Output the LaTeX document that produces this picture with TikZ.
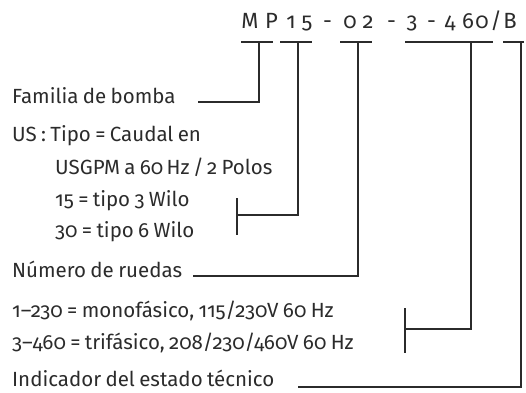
\documentclass[tikz,border=0pt]{standalone}
\usepackage{fontspec}
\setmainfont{Fira Sans}[Numbers=OldStyle,WordSpace=0.8]
\definecolor{ink}{HTML}{2B2B2B}
\begin{document}
\begin{tikzpicture}[x=1pt,y=-1pt,
  txt/.style={anchor=base west,inner sep=0pt,text=ink,font=\fontsize{20.5}{22}\selectfont},
  hd/.style={anchor=base,inner sep=0pt,text=ink,font=\fontsize{22}{24}\selectfont},
  ln/.style={draw=ink,line width=1.1pt}]
\useasboundingbox (0,0) rectangle (526,392);
% header characters
\foreach \c/\x [count=\i] in {M/250,P/271.5,1/291,5/307,-/327.5,0/350,2/368,-/391.5,3/412,-/431.5,4/450,6/468,0/482,B/510}
  \node[hd] (h\i) at (\x,28) {\c};
\node[hd] (hsl) at (496,28) {/};
% underlines
\coordinate (uMPa) at (241,42); \coordinate (uMPb) at (273,42);
\coordinate (u15a) at (280,42); \coordinate (u15b) at (312,42);
\coordinate (u02a) at (340,42); \coordinate (u02b) at (372,42);
\coordinate (u3a) at (405,42); \coordinate (u3b) at (493,42);
\coordinate (uBa) at (503,42); \coordinate (uBb) at (524,42);
\draw[ln] (uMPa) -- (uMPb);
\draw[ln] (u15a) -- (u15b);
\draw[ln] (u02a) -- (u02b);
\draw[ln] (u3a) -- (u3b);
\draw[ln] (uBa) -- (uBb);
% left texts
\node[txt] (fam) at (12,103) {Familia de bomba};
\node[txt] (us1) at (12,141) {US : Tipo = Caudal en};
\node[txt] (us2) at (55,174) {USGPM a 60\,Hz\,/\,2 Polos};
\node[txt] (t15) at (55,206) {15 = tipo 3 Wilo};
\node[txt] (t30) at (55,237) {30 = tipo 6 Wilo};
\node[txt] (num) at (12,277) {Número de ruedas};
\node[txt] (v1) at (12,317) {1–230 = monofásico, 115/230V 60 Hz};
\node[txt] (v3) at (12,349) {3–460 = trifásico, 208/230/460V 60 Hz};
\node[txt] (ind) at (12,386) {Indicador del estado técnico};
% connectors
\coordinate (famS) at (198,102);
\draw[ln] (famS) -- (259,102) -- (259,42);
\coordinate (b15t) at (237,198); \coordinate (b15b) at (237,235);
\draw[ln] (b15t) -- (b15b);
\draw[ln] (237,215) -- (298,215) -- (298,42);
\coordinate (numS) at (193,276);
\draw[ln] (numS) -- (358,276) -- (358,42);
\coordinate (bVt) at (405,308); \coordinate (bVb) at (405,353);
\draw[ln] (bVt) -- (bVb);
\draw[ln] (405,329) -- (471,329) -- (471,42);
\coordinate (indS) at (298,387);
\draw[ln] (indS) -- (521,387) -- (521,42);
\end{tikzpicture}
\end{document}
